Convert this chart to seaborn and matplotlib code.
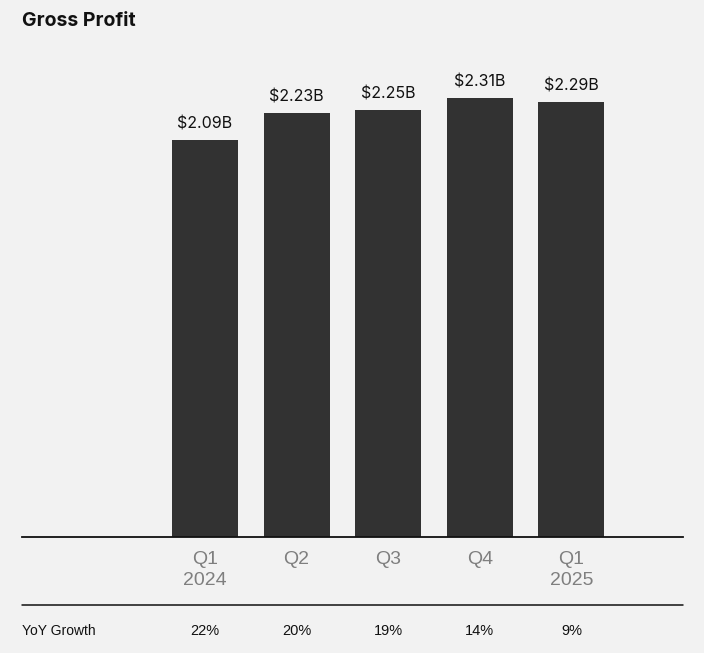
import matplotlib
matplotlib.use("Agg")
import matplotlib.pyplot as plt
import seaborn as sns
import pandas as pd
from matplotlib.lines import Line2D
from matplotlib.transforms import blended_transform_factory

quarters = ["Q1\n2024", "Q2", "Q3", "Q4", "Q1\n2025"]
gross_profit = [2.09, 2.23, 2.25, 2.31, 2.29]
profit_labels = ["$2.09B", "$2.23B", "$2.25B", "$2.31B", "$2.29B"]
yoy_growth = ["22%", "20%", "19%", "14%", "9%"]

df = pd.DataFrame({"quarter": quarters, "profit": gross_profit})

bg = "#f2f2f2"
sns.set_style("white")
plt.rcParams["font.family"] = ["Inter", "DejaVu Sans"]

fig = plt.figure(figsize=(7.04, 6.53), dpi=100, facecolor=bg)
W, H = 704, 653
ax = fig.add_axes([22 / W, (H - 537) / H, (683 - 22) / W, (537 - 43) / H])
ax.set_facecolor(bg)

sns.barplot(data=df, x="quarter", y="profit", color="#323232", width=0.72,
            saturation=1, linewidth=0, ax=ax)

ax.set_xlim(-1.998, 5.218)
ax.set_ylim(0, 2.6)
ax.bar_label(ax.containers[0], labels=profit_labels, padding=6,
             fontsize=11.5, color="#111111")

for s in ["top", "right", "left"]:
    ax.spines[s].set_visible(False)
ax.spines["bottom"].set_color("#111111")
ax.spines["bottom"].set_linewidth(1.3)
ax.set_yticks([])
ax.set_xlabel("")
ax.set_ylabel("")
ax.tick_params(axis="x", length=0, pad=10, labelsize=14, labelcolor="#7f7f7f")
for t in ax.get_xticklabels():
    t.set_fontfamily(["Liberation Sans", "DejaVu Sans"])
    t.set_linespacing(1.35)

fig.text(22 / W, 1 - 21 / H, "Gross Profit", fontsize=14, fontweight="bold",
         color="#111111", va="center", ha="left")

fig.add_artist(Line2D([22 / W, 683 / W], [1 - 605 / H, 1 - 605 / H],
                      color="#111111", lw=1.1))

row_tr = blended_transform_factory(ax.transData, fig.transFigure)
fig.text(22 / W, 1 - 631 / H, "YoY Growth", fontsize=10, color="#111111",
         va="center", ha="left", family=["Liberation Sans", "DejaVu Sans"])
for i, g in enumerate(yoy_growth):
    ax.text(i, 1 - 631 / H, g, transform=row_tr, fontsize=10.5, color="#111111",
            va="center", ha="center", family=["Liberation Sans", "DejaVu Sans"],
            clip_on=False)

fig.savefig("out.png", dpi=100, facecolor=bg)
